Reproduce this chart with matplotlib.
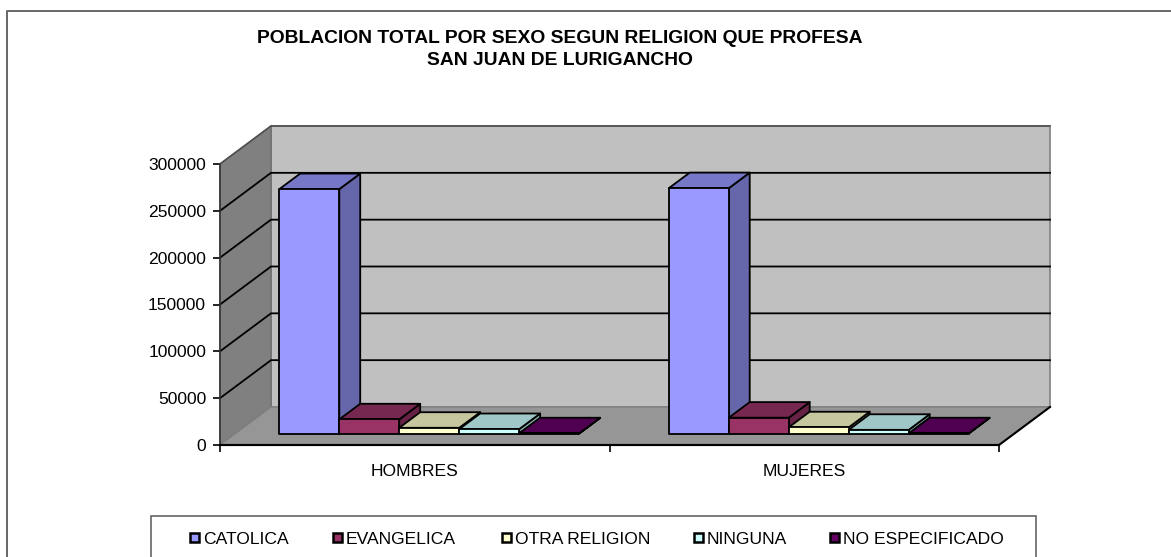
import matplotlib
matplotlib.use('Agg')
import matplotlib.pyplot as plt
from matplotlib.colors import to_rgb
from matplotlib.patches import Polygon, Rectangle

plt.rcParams['font.family'] = ['Liberation Sans', 'DejaVu Sans']

title_lines = ['POBLACION TOTAL POR SEXO SEGUN RELIGION QUE PROFESA', 'SAN JUAN DE LURIGANCHO']
categories = ['HOMBRES', 'MUJERES']
catolica = [261000, 262000]
evangelica = [15200, 17000]
otra = [6200, 6700]
ninguna = [4800, 4000]
no_especificado = [300, 300]
series_names = ['CATOLICA', 'EVANGELICA', 'OTRA RELIGION', 'NINGUNA', 'NO ESPECIFICADO']
series_values = [catolica, evangelica, otra, ninguna, no_especificado]
series_colors = ['#9999FF', '#993366', '#FFFFCC', '#CCFFFF', '#660066']
y_ticks = [0, 50000, 100000, 150000, 200000, 250000, 300000]

W, H = 1171, 557
fig = plt.figure(figsize=(W / 100, H / 100), dpi=100)

# front plane of the fake 3d box, everything else hangs off this axes
x0, x1, y_bottom, y_top = 220, 999, 445, 164
ax = fig.add_axes([x0 / W, 1 - y_bottom / H, (x1 - x0) / W, (y_bottom - y_top) / H])
ax.set_xlim(0, len(categories))
ax.set_ylim(0, 300000)
ax.patch.set_visible(False)

# depth of the box, in data units (51 px across, 38 px up)
depth_x = 51 / ((x1 - x0) / len(categories))
depth_y = 38 / ((y_bottom - y_top) / 300000)


def proj(x, y, d=0.0):
    return (x + d * depth_x, y + d * depth_y)


def face(points, color, z, edge='black', lw=1.3):
    ax.add_patch(Polygon(points, closed=True, facecolor=color, edgecolor=edge,
                         linewidth=lw, zorder=z, clip_on=False, joinstyle='round'))


def shade(color, f):
    return tuple(c * f for c in to_rgb(color))


n_cat = len(categories)
# walls and floor
face([proj(0, 0, 1), proj(n_cat, 0, 1), proj(n_cat, 300000, 1), proj(0, 300000, 1)], '#C0C0C0', 1, edge='#808080', lw=1.2)
face([proj(0, 0), proj(0, 0, 1), proj(0, 300000, 1), proj(0, 300000)], '#808080', 1, edge='#6e6e6e', lw=1)
face([proj(0, 0), proj(n_cat, 0), proj(n_cat, 0, 1), proj(0, 0, 1)], '#969696', 1, edge='#808080', lw=1)
ax.plot(*zip(proj(0, 0), proj(n_cat, 0), proj(n_cat, 0, 1)), color='black', lw=1.5, zorder=2, clip_on=False)

# gridlines, left wall then back wall (the top edge stays grey)
for v in y_ticks[1:-1]:
    ax.plot(*zip(proj(0, v), proj(0, v, 1), proj(n_cat, v, 1)), color='black', lw=1.3, zorder=2, clip_on=False)
ax.plot(*zip(proj(0, 300000), proj(0, 300000, 1), proj(n_cat, 300000, 1)), color='#505050', lw=1.2, zorder=2, clip_on=False)

# bars, drawn left to right since the right hand ones sit nearer
gap = 0.113
bar_w = 0.154
d_front = 0.30
d_back = 0.71
for c in range(n_cat):
    for s, values in enumerate(series_values):
        v = values[c]
        col = series_colors[s]
        left = c + gap + s * bar_w
        right = left + bar_w
        z = 5 + c * 10 + s * 0.1
        # side, top, front
        face([proj(right, 0, d_front), proj(right, 0, d_back), proj(right, v, d_back), proj(right, v, d_front)], shade(col, 0.667), z)
        face([proj(left, v, d_front), proj(right, v, d_front), proj(right, v, d_back), proj(left, v, d_back)], shade(col, 0.78), z)
        face([proj(left, 0, d_front), proj(right, 0, d_front), proj(right, v, d_front), proj(left, v, d_front)], col, z)

# axes
for side in ['top', 'right']:
    ax.spines[side].set_visible(False)
ax.spines['left'].set_linewidth(1.2)
ax.spines['left'].set_color('#333333')
ax.spines['left'].set_zorder(3)
ax.spines['bottom'].set_linewidth(1.5)
ax.spines['bottom'].set_zorder(3)
ax.set_yticks(y_ticks)
ax.set_yticklabels([str(v) for v in y_ticks], fontsize=12.6, color='black')
ax.set_xticks(range(n_cat + 1))
ax.set_xticklabels([])
ax.set_xticks([c + 0.5 for c in range(n_cat)], minor=True)
ax.set_xticklabels(categories, minor=True, fontsize=12.6)
ax.tick_params(axis='x', which='minor', length=0, pad=14)
ax.tick_params(axis='x', which='major', length=5, width=1.2, direction='out')
ax.tick_params(axis='y', length=5, width=1.2, pad=5)

# overlay for the chart frame, title and legend, in pixels
top = fig.add_axes([0, 0, 1, 1], zorder=10)
top.set_xlim(0, W)
top.set_ylim(H, 0)
top.axis('off')
top.plot([7, 7, W], [H, 11, 11], color='#666666', lw=1.4)
top.text(560, 38.5, title_lines[0], ha='center', va='center', fontsize=13.9, fontweight='bold')
top.text(560, 60.5, title_lines[1], ha='center', va='center', fontsize=13.9, fontweight='bold')

top.add_patch(Rectangle((151, 516), 885, 60, facecolor='white', edgecolor='#666666', lw=1.2))
marker_x = [190, 333, 502, 694, 830]
for name, col, mx in zip(series_names, series_colors, marker_x):
    top.add_patch(Rectangle((mx, 532.5), 9, 9, facecolor=col, edgecolor='black', lw=1.8))
    top.text(mx + 13, 539.5, name, ha='left', va='center', fontsize=12.6)

fig.savefig('out.png', dpi=100)
